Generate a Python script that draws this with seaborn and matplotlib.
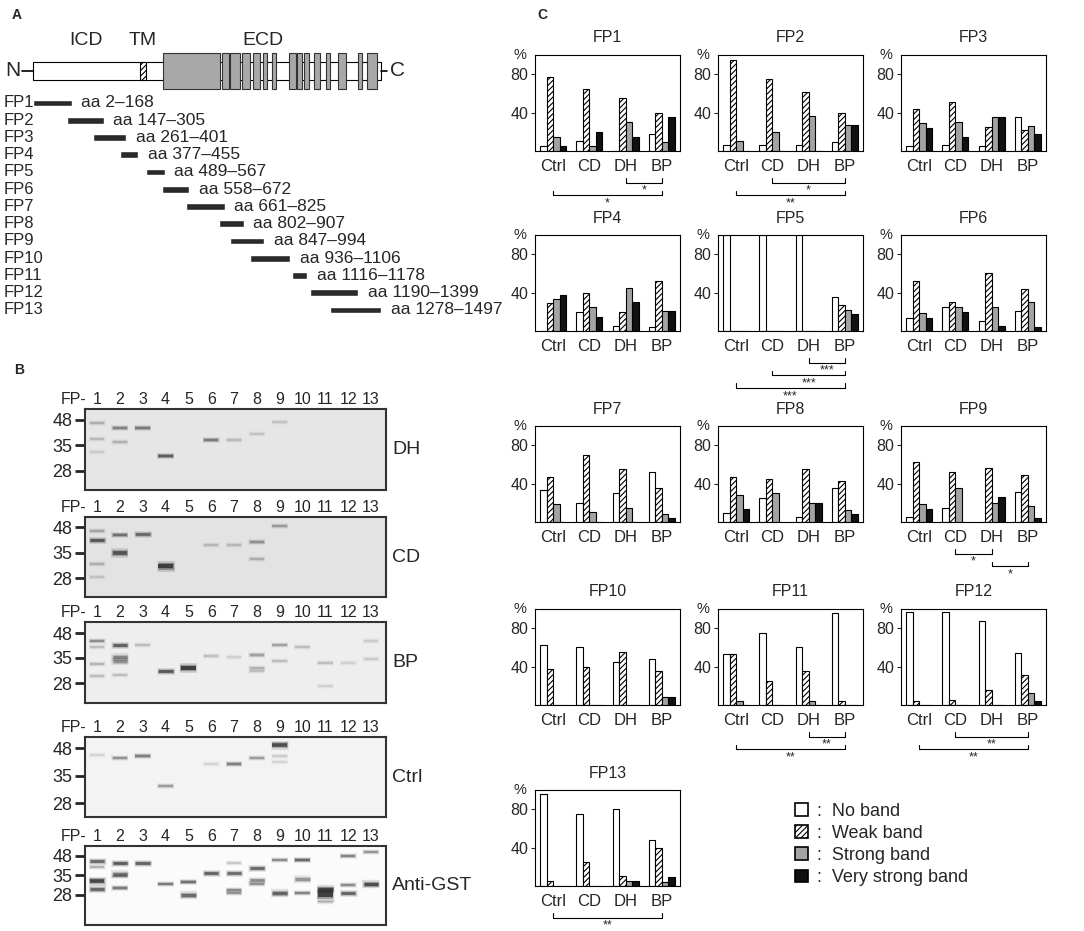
import numpy as np
import pandas as pd
import matplotlib
matplotlib.use("Agg")
import matplotlib.pyplot as plt
from matplotlib.patches import Patch
import seaborn as sns

sns.set_style("white")
plt.rcParams['font.family'] = ['Liberation Sans', 'DejaVu Sans']
plt.rcParams['hatch.linewidth'] = 0.8

W, H = 1084, 931

############################################################
# panel A data: fragments (aa ranges) and receptor domains

FP_NAMES = ['FP%d' % i for i in range(1, 14)]
FP_START = [2, 147, 261, 377, 489, 558, 661, 802, 847, 936, 1116, 1190, 1278]
FP_END = [168, 305, 401, 455, 567, 672, 825, 907, 994, 1106, 1178, 1399, 1497]
PROTEIN_LEN = 1497
TM_RANGE = (460, 486)
BIG_DOMAIN = (560, 805)
REPEAT_START = [815, 849, 899, 946, 989, 1029, 1101, 1137, 1166, 1207, 1259, 1311, 1398, 1436]
REPEAT_END = [843, 889, 932, 978, 1006, 1047, 1130, 1158, 1186, 1236, 1276, 1347, 1416, 1479]

############################################################
# panel B data: blots, bands as (lane, position in marker units, darkness, thickness)
# marker units: 48 kDa -> 0, 35 kDa -> 1, 28 kDa -> 2

BLOT_NAMES = ['DH', 'CD', 'BP', 'Ctrl', 'Anti-GST']
MARKERS = ['48', '35', '28']
LANES = [str(i) for i in range(1, 14)]

DH_BANDS = [
    (1, 0.13, 0.25, 2), (1, 0.73, 0.2, 2), (1, 1.24, 0.12, 2),
    (2, 0.30, 0.5, 2.2), (2, 0.85, 0.25, 2),
    (3, 0.30, 0.55, 2.2),
    (4, 1.40, 0.75, 2.2),
    (6, 0.77, 0.55, 2.2),
    (7, 0.77, 0.2, 2),
    (8, 0.56, 0.15, 2),
    (9, 0.07, 0.15, 2),
]
CD_BANDS = [
    (1, 0.16, 0.3, 2), (1, 0.52, 0.8, 2.5), (1, 1.43, 0.25, 2), (1, 1.95, 0.15, 2),
    (2, 0.32, 0.6, 2.2), (2, 1.0, 0.8, 3.5),
    (3, 0.26, 0.65, 2.5),
    (4, 1.53, 1.0, 4),
    (6, 0.69, 0.2, 2), (7, 0.69, 0.2, 2),
    (8, 0.58, 0.4, 2.2), (8, 1.23, 0.25, 2),
    (9, -0.03, 0.35, 2),
]
BP_BANDS = [
    (1, 0.31, 0.45, 2), (1, 0.54, 0.2, 2), (1, 1.24, 0.25, 2), (1, 1.70, 0.2, 2),
    (2, 0.47, 0.75, 2.5), (2, 0.97, 0.5, 3), (2, 1.12, 0.45, 3), (2, 1.66, 0.2, 2),
    (3, 0.47, 0.2, 2),
    (4, 1.50, 0.8, 2.5),
    (5, 1.38, 1.0, 3.5),
    (6, 0.93, 0.2, 2), (7, 0.97, 0.12, 2),
    (8, 0.86, 0.35, 2.2), (8, 1.39, 0.25, 2), (8, 1.52, 0.2, 2),
    (9, 0.47, 0.35, 2), (9, 1.12, 0.2, 2),
    (10, 0.54, 0.2, 2),
    (11, 1.20, 0.2, 2), (11, 2.12, 0.12, 2),
    (12, 1.20, 0.12, 2),
    (13, 0.30, 0.15, 2), (13, 1.05, 0.15, 2),
]
CTRL_BANDS = [
    (1, 0.25, 0.12, 2),
    (2, 0.35, 0.45, 2),
    (3, 0.28, 0.55, 2.2),
    (4, 1.37, 0.4, 2),
    (6, 0.57, 0.12, 2),
    (7, 0.59, 0.55, 2.2),
    (8, 0.37, 0.4, 2),
    (9, -0.12, 0.9, 3.2), (9, 0.30, 0.15, 2), (9, 0.50, 0.12, 2),
]
GST_BANDS = [
    (1, 0.25, 0.7, 2.5), (1, 0.55, 0.3, 2), (1, 1.28, 0.95, 3.2), (1, 1.70, 0.7, 2.8),
    (2, 0.37, 0.8, 2.5), (2, 0.92, 0.6, 3), (2, 1.05, 0.35, 2), (2, 1.65, 0.6, 2.2),
    (3, 0.37, 0.75, 2.5),
    (4, 1.42, 0.6, 2),
    (5, 1.31, 0.65, 2.2), (5, 2.02, 0.7, 3),
    (6, 0.85, 0.75, 2.5),
    (7, 0.37, 0.2, 2), (7, 0.87, 0.7, 2.5), (7, 1.73, 0.5, 2), (7, 1.90, 0.45, 2),
    (8, 0.63, 0.7, 2.5), (8, 1.25, 0.5, 2.5), (8, 1.42, 0.45, 2),
    (9, 0.20, 0.5, 2), (9, 1.89, 0.75, 3),
    (10, 0.22, 0.7, 2.2), (10, 1.20, 0.45, 3), (10, 1.90, 0.55, 2),
    (11, 1.68, 0.9, 3), (11, 1.97, 1.0, 5.5), (11, 2.35, 0.2, 2),
    (12, 0.00, 0.55, 2), (12, 1.50, 0.5, 2), (12, 1.90, 0.75, 2.5),
    (13, -0.22, 0.45, 2), (13, 1.45, 0.9, 3),
]
BLOT_BANDS = [DH_BANDS, CD_BANDS, BP_BANDS, CTRL_BANDS, GST_BANDS]

############################################################
# panel C data: % of sera per band class, groups Ctrl, CD, DH, BP

GROUPS = ['Ctrl', 'CD', 'DH', 'BP']
BANDS = ['No band', 'Weak band', 'Strong band', 'Very strong band']

NO_BAND = [[5, 10, 0, 18], [6, 6, 6, 9], [5, 6, 5, 35], [0, 20, 5, 4],
           [100, 100, 100, 35], [14, 25, 10, 21], [33, 20, 30, 52], [9, 25, 5, 35],
           [5, 15, 0, 31], [62, 60, 45, 48], [53, 75, 60, 96], [97, 97, 87, 54],
           [96, 75, 80, 48]]
WEAK = [[77, 65, 55, 40], [95, 75, 61, 40], [44, 51, 25, 22], [29, 40, 20, 52],
        [0, 0, 0, 27], [52, 30, 60, 44], [47, 70, 55, 35], [47, 45, 55, 43],
        [63, 52, 56, 49], [38, 40, 55, 35], [53, 25, 35, 4], [4, 5, 16, 31],
        [5, 25, 10, 40]]
STRONG = [[15, 5, 30, 9], [10, 20, 36, 27], [29, 30, 35, 26], [33, 25, 45, 21],
          [0, 0, 0, 22], [19, 25, 25, 30], [19, 10, 15, 8], [28, 30, 20, 13],
          [19, 35, 20, 17], [0, 0, 0, 8], [4, 0, 4, 0], [0, 0, 0, 13],
          [0, 0, 5, 4]]
VSTRONG = [[5, 20, 15, 35], [0, 0, 0, 27], [24, 15, 35, 18], [38, 15, 30, 21],
           [0, 0, 0, 18], [14, 20, 5, 4], [0, 0, 0, 4], [14, 0, 20, 8],
           [14, 0, 26, 4], [0, 0, 0, 8], [0, 0, 0, 0], [0, 0, 0, 4],
           [0, 0, 5, 9]]

# significance: (panel index, group a, group b, bracket level, label)
SIGNIF = [(0, 'DH', 'BP', 0, '*'), (0, 'Ctrl', 'BP', 1, '*'),
          (1, 'CD', 'BP', 0, '*'), (1, 'Ctrl', 'BP', 1, '**'),
          (4, 'DH', 'BP', 0, '***'), (4, 'CD', 'BP', 1, '***'), (4, 'Ctrl', 'BP', 2, '***'),
          (8, 'CD', 'DH', 0, '*'), (8, 'DH', 'BP', 1, '*'),
          (10, 'DH', 'BP', 0, '**'), (10, 'Ctrl', 'BP', 1, '**'),
          (11, 'CD', 'BP', 0, '**'), (11, 'Ctrl', 'BP', 1, '**'),
          (12, 'Ctrl', 'BP', 0, '**')]

BAND_COLORS = {'No band': 'white', 'Weak band': 'white',
               'Strong band': '#a3a3a3', 'Very strong band': '#111111'}


############################################################


def px_axes(fig, x, y, w, h):
    """axes placed in pixel coordinates of the reference (top-left origin)"""
    return fig.add_axes([x / W, 1 - (y + h) / H, w / W, h / H])


fig = plt.figure(figsize=(W / 100, H / 100), dpi=100)

fig.text(12 / W, 1 - 15 / H, 'A', fontsize=10, fontweight='bold', va='center')
fig.text(14 / W, 1 - 370 / H, 'B', fontsize=10, fontweight='bold', va='center')
fig.text(537 / W, 1 - 15 / H, 'C', fontsize=10, fontweight='bold', va='center')

# ---------------- panel A ----------------
axA = px_axes(fig, 0, 20, 530, 300)
axA.set_xlim(-140, 2137)
axA.set_ylim(12.58, -4.81)
axA.axis('off')

prot_y = -1.86
axA.plot([-45, 0], [prot_y, prot_y], color='black', lw=1.2)
axA.plot([PROTEIN_LEN, PROTEIN_LEN + 25], [prot_y, prot_y], color='black', lw=1.2)
axA.barh(prot_y, PROTEIN_LEN, left=0, height=1.04, color='white', edgecolor='black', lw=0.8)
axA.barh(prot_y, TM_RANGE[1] - TM_RANGE[0], left=TM_RANGE[0], height=1.04,
         color='white', edgecolor='black', lw=0.8, hatch='//////')
axA.barh(prot_y, BIG_DOMAIN[1] - BIG_DOMAIN[0], left=BIG_DOMAIN[0], height=2.09,
         color='#a8a8a8', edgecolor='#333333', lw=0.8)
axA.barh([prot_y] * len(REPEAT_START), np.array(REPEAT_END) - np.array(REPEAT_START),
         left=REPEAT_START, height=2.09, color='#a8a8a8', edgecolor='#333333', lw=0.8)
axA.text(-84, prot_y, 'N', fontsize=15, ha='center', va='center')
axA.text(PROTEIN_LEN + 72, prot_y, 'C', fontsize=15, ha='center', va='center')
axA.text(TM_RANGE[0] / 2, -3.6, 'ICD', fontsize=14, ha='center', va='center')
axA.text(sum(TM_RANGE) / 2, -3.6, 'TM', fontsize=14, ha='center', va='center')
axA.text((TM_RANGE[1] + PROTEIN_LEN) / 2, -3.6, 'ECD', fontsize=14, ha='center', va='center')

rows = np.arange(len(FP_NAMES))
axA.barh(rows, np.array(FP_END) - np.array(FP_START), left=FP_START, height=0.4,
         color='#2a2a2a')
for r, name, s, e in zip(rows, FP_NAMES, FP_START, FP_END):
    axA.text(4 / 530, r, name, transform=axA.get_yaxis_transform(), fontsize=12,
             ha='left', va='center')
    axA.annotate('aa %d\u2013%d' % (s, e), xy=(e, r), xytext=(7, 0),
                 textcoords='offset points', fontsize=12.5, ha='left', va='center')

# ---------------- panel B ----------------
blot_boxes = [(409, 490), (517, 597), (622, 703), (737, 817), (846, 925)]
blot_ylims = [(2.75, -0.43), (2.72, -0.39), (2.8, -0.44), (2.5, -0.4), (3.54, -0.51)]
blot_bg = ['#e6e6e6', '#e3e3e3', '#eeeeee', '#f3f3f3', '#fbfbfb']

for name, bands, (top, bot), ylim, bg in zip(BLOT_NAMES, BLOT_BANDS, blot_boxes,
                                             blot_ylims, blot_bg):
    ax = px_axes(fig, 85, top, 301, bot - top)
    ax.set_facecolor(bg)
    ax.set_xlim(0.47, 13.66)
    ax.set_ylim(*ylim)
    for lane, pos, dark, thick in bands:
        # soft halo + core so the bands look a bit blurred
        ax.hlines(pos, lane - 0.37, lane + 0.37, colors='#1a1a1a', alpha=dark * 0.15,
                  linewidth=thick * 2.0)
        ax.hlines(pos, lane - 0.35, lane + 0.35, colors='#1a1a1a', alpha=dark * 0.3,
                  linewidth=thick * 1.3)
        ax.hlines(pos, lane - 0.32, lane + 0.32, colors='#1a1a1a', alpha=dark * 0.7,
                  linewidth=thick * 0.8)
    ax.set_yticks(range(len(MARKERS)))
    ax.set_yticklabels(MARKERS)
    ax.tick_params(axis='y', left=True, length=7, width=2, pad=2, labelsize=13)
    ax.xaxis.tick_top()
    ax.set_xticks(range(1, 14))
    ax.set_xticklabels(LANES)
    ax.tick_params(axis='x', length=0, pad=1.5, labelsize=11.5)
    ax.annotate('FP-', xy=(0, 1), xycoords='axes fraction', xytext=(1, 1.5),
                textcoords='offset points', ha='right', va='bottom', fontsize=11.5)
    for sp in ax.spines.values():
        sp.set_color('#333333')
        sp.set_linewidth(1.5)
    ax.text(1.02, 0.5, name, transform=ax.transAxes, fontsize=14, ha='left', va='center')

# ---------------- panel C ----------------
col_left = [535, 718, 901]
row_top = [55, 235, 426, 609, 790]

for i, name in enumerate(FP_NAMES):
    ax = px_axes(fig, col_left[i % 3], row_top[i // 3], 145, 96)
    df = pd.DataFrame({
        'group': GROUPS * 4,
        'band': np.repeat(BANDS, 4),
        'pct': NO_BAND[i] + WEAK[i] + STRONG[i] + VSTRONG[i],
    })
    sns.barplot(data=df, x='group', y='pct', hue='band', order=GROUPS, hue_order=BANDS,
                palette=BAND_COLORS, edgecolor='black', linewidth=0.8, width=0.72,
                saturation=1, errorbar=None, legend=False, ax=ax)
    for bar in ax.containers[1]:
        bar.set_hatch('//////')
    ax.set_ylim(0, 100)
    ax.set_xlim(-0.5, 3.5)
    ax.set_yticks([40, 80])
    ax.set_xlabel('')
    ax.set_ylabel('')
    ax.set_title(name, fontsize=11.5, pad=9)
    ax.tick_params(axis='x', length=0, pad=6, labelsize=12)
    ax.tick_params(axis='y', left=True, length=3, width=0.8, pad=2, labelsize=11.5)
    for sp in ax.spines.values():
        sp.set_color('black')
        sp.set_linewidth(0.8)
    ax.text(-0.105, 1.0, '%', transform=ax.transAxes, fontsize=10.5, ha='center',
            va='center')

    for idx, g1, g2, level, label in SIGNIF:
        if idx != i:
            continue
        x1, x2 = GROUPS.index(g1), GROUPS.index(g2)
        y = -33 - 13.3 * level
        ax.plot([x1, x1, x2, x2], [y + 5, y, y, y + 5], color='black', lw=0.8,
                clip_on=False)
        ax.text((x1 + x2) / 2, y - 2, label, fontsize=9, ha='center', va='top',
                clip_on=False)

handles = [Patch(facecolor=BAND_COLORS[b], edgecolor='black', lw=1.2,
                 hatch='//////' if b == 'Weak band' else None) for b in BANDS]
fig.legend(handles, [':  ' + b for b in BANDS], loc='upper left',
           bbox_to_anchor=(795 / W, 1 - 803 / H), frameon=False, fontsize=13,
           handlelength=0.7, handleheight=0.7, handletextpad=0.5, labelspacing=0.28,
           borderpad=0, borderaxespad=0)

fig.savefig('out.png', dpi=100)
